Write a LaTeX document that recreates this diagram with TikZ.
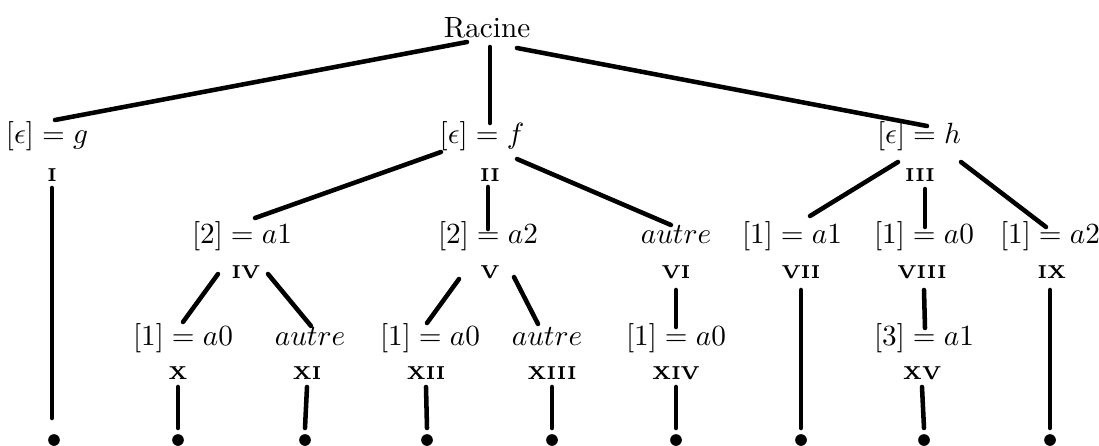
\documentclass[tikz,border=0pt]{standalone}
\begin{document}
\begin{tikzpicture}[x=0.342pt,y=-0.342pt,
  lbl/.style={anchor=base,inner sep=0pt,font=\fontsize{10}{12}\selectfont},
  num/.style={inner sep=0pt,font=\fontsize{6.4}{7}\selectfont\bfseries},
  edge/.style={line width=1.55pt,line cap=round},
  leafdot/.style={circle,fill,inner sep=0pt,minimum size=4pt}]
\useasboundingbox (0,0) rectangle (1099,445);
% root
\node[lbl] (root) at (487,37) {Racine};
% level 1
\node[lbl] (l1) at (47,143) {$[\epsilon] = g$};
\node[lbl] (l2) at (482,143) {$[\epsilon] = f$};
\node[lbl] (l3) at (919,143) {$[\epsilon] = h$};
\node[num] (n1) at (52,175) {I};
\node[num] (n2) at (490,175) {II};
\node[num] (n3) at (920,175) {III};
% level 2
\node[lbl] (l4) at (242,243) {$[2] = a1$};
\node[lbl] (l5) at (488,243) {$[2] = a2$};
\node[lbl] (l6) at (676,243) {$autre$};
\node[lbl] (l7) at (792,243) {$[1] = a1$};
\node[lbl] (l8) at (924,243) {$[1] = a0$};
\node[lbl] (l9) at (1050,243) {$[1] = a2$};
\node[num] (n4) at (246,272) {IV};
\node[num] (n5) at (490,272) {V};
\node[num] (n6) at (676,272) {VI};
\node[num] (n7) at (801,272) {VII};
\node[num] (n8) at (922,272) {VIII};
\node[num] (n9) at (1052,272) {IX};
% level 3
\node[lbl] (l10) at (183,345) {$[1] = a0$};
\node[lbl] (l11) at (310,345) {$autre$};
\node[lbl] (l12) at (430,345) {$[1] = a0$};
\node[lbl] (l13) at (547,345) {$autre$};
\node[lbl] (l14) at (676,345) {$[1] = a0$};
\node[lbl] (l15) at (924,345) {$[3] = a1$};
\node[num] (n10) at (178,373) {X};
\node[num] (n11) at (307,373) {XI};
\node[num] (n12) at (426,373) {XII};
\node[num] (n13) at (552,373) {XIII};
\node[num] (n14) at (676,373) {XIV};
\node[num] (n15) at (922,373) {XV};
% leaves
\node[leafdot] (d1) at (54,440) {};
\node[leafdot] (d2) at (178,440) {};
\node[leafdot] (d3) at (305,440) {};
\node[leafdot] (d4) at (427,440) {};
\node[leafdot] (d5) at (552,440) {};
\node[leafdot] (d6) at (676,440) {};
\node[leafdot] (d7) at (801,440) {};
\node[leafdot] (d8) at (924,440) {};
\node[leafdot] (d9) at (1050,440) {};
% edges level 0-1
\draw[edge] ([shift={(-20,5)}]root.base) -- ([shift={(8,-23)}]l1.base);
\draw[edge] ([shift={(3,10)}]root.base) -- ([shift={(8,-20)}]l2.base);
\draw[edge] ([shift={(30,11)}]root.base) -- ([shift={(8,-17)}]l3.base);
% edges level 1-2
\draw[edge] ([shift={(-49,-23)}]n2.center) -- ([shift={(13,-25)}]l4.base);
\draw[edge] ([shift={(-2,12)}]n2.center) -- ([shift={(0,-14)}]l5.base);
\draw[edge] ([shift={(27,-16)}]n2.center) -- ([shift={(-5,-18)}]l6.base);
\draw[edge] ([shift={(-22,-13)}]n3.center) -- ([shift={(18,-27)}]l7.base);
\draw[edge] ([shift={(5,14)}]n3.center) -- ([shift={(1,-16)}]l8.base);
\draw[edge] ([shift={(41,-13)}]n3.center) -- ([shift={(-4,-16)}]l9.base);
% edges level 2-3
\draw[edge] ([shift={(-28,2)}]n4.center) -- ([shift={(0,-23)}]l10.base);
\draw[edge] ([shift={(22,2)}]n4.center) -- ([shift={(1,-19)}]l11.base);
\draw[edge] ([shift={(-31,7)}]n5.center) -- ([shift={(-3,-22)}]l12.base);
\draw[edge] ([shift={(24,5)}]n5.center) -- ([shift={(-9,-21)}]l13.base);
\draw[edge] ([shift={(0,18)}]n6.center) -- ([shift={(0,-18)}]l14.base);
\draw[edge] ([shift={(2,18)}]n8.center) -- ([shift={(1,-17)}]l15.base);
% edges to leaves
\draw[edge] ([shift={(0,13)}]n1.center) -- ([shift={(-2,-22)}]d1.center);
\draw[edge] ([shift={(0,18)}]n7.center) -- ([shift={(0,-12)}]d7.center);
\draw[edge] ([shift={(-2,18)}]n9.center) -- ([shift={(0,-12)}]d9.center);
\draw[edge] ([shift={(0,14)}]n10.center) -- ([shift={(0,-12)}]d2.center);
\draw[edge] ([shift={(0,14)}]n11.center) -- ([shift={(0,-12)}]d3.center);
\draw[edge] ([shift={(0,14)}]n12.center) -- ([shift={(0,-12)}]d4.center);
\draw[edge] ([shift={(0,14)}]n13.center) -- ([shift={(0,-12)}]d5.center);
\draw[edge] ([shift={(0,14)}]n14.center) -- ([shift={(0,-12)}]d6.center);
\draw[edge] ([shift={(0,14)}]n15.center) -- ([shift={(0,-12)}]d8.center);
\end{tikzpicture}
\end{document}
